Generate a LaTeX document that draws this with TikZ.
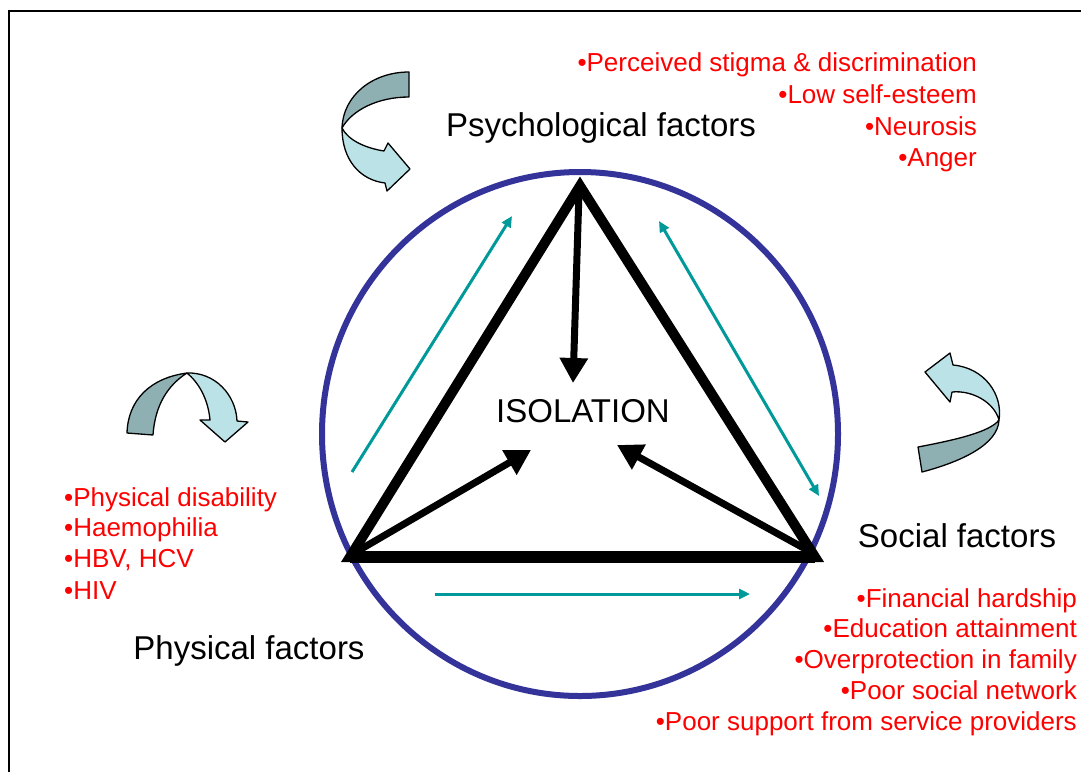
\documentclass[tikz,border=0pt]{standalone}
\usepackage{fontspec}
\setmainfont{Liberation Sans}
\usetikzlibrary{arrows.meta}
\definecolor{ringblue}{RGB}{51,51,153}
\definecolor{tealar}{RGB}{0,153,153}
\definecolor{cadark}{RGB}{143,176,178}
\definecolor{calight}{RGB}{187,226,230}
\definecolor{redtxt}{RGB}{255,0,0}
\tikzset{
  lbl/.style={font=\fontsize{33}{40}\selectfont, inner sep=0pt, anchor=base, text=black},
  rtxt/.style={font=\fontsize{26}{31}\selectfont, inner sep=0pt, text=redtxt},
  blkarrow/.style={line width=7pt, -{Triangle[length=25pt,width=27pt]}, shorten >=0pt},
  tealone/.style={tealar, line width=3pt, -{Triangle[length=11pt,width=10pt]}},
  tealtwo/.style={tealar, line width=3pt, {Triangle[length=11pt,width=10pt]}-{Triangle[length=11pt,width=10pt]}},
  bandedge/.style={draw=black, line width=1.3pt, line join=round},
}
\begin{document}
\begin{tikzpicture}[x=1pt,y=-1pt]
\useasboundingbox (0,0) rectangle (1081,772);
\fill[white] (0,0) rectangle (1081,772);
% frame
\draw[line width=2.5pt] (9,772) -- (9,11) -- (1081,11);

% ring
\draw[ringblue, line width=6pt] (580,434) ellipse [x radius=258pt, y radius=262pt];

% triangle vertices
\coordinate (top) at (580,186);
\coordinate (bl) at (350,557);
\coordinate (br) at (815,557);
\draw[line width=10pt, line join=miter] (top) -- (bl) -- (br) -- cycle;
\draw[line width=12pt] (bl) -- (br);

% labels
\node[lbl] (psy) at (601,136) {Psychological factors};
\node[lbl] (iso) at (583,422) {ISOLATION};
\node[lbl] (soc) at (957,547) {Social factors};
\node[lbl] (phy) at (249,659) {Physical factors};

% black arrows into isolation
\coordinate (a1s) at (579,192);
\coordinate (a1e) at (573,383);
\coordinate (a2s) at (356,552);
\coordinate (a2e) at (531,450);
\coordinate (a3s) at (809,551);
\coordinate (a3e) at (617,445);
\draw[blkarrow] (a1s) -- (a1e);
\draw[blkarrow] (a2s) -- (a2e);
\draw[blkarrow] (a3s) -- (a3e);

% teal arrows
\coordinate (t1s) at (352,472);
\coordinate (t1e) at (512,216);
\coordinate (t2s) at (659,221);
\coordinate (t2e) at (819,496);
\coordinate (t3s) at (435,594);
\coordinate (t3e) at (750,594);
\draw[tealone] (t1s) -- (t1e);
\draw[tealtwo] (t2s) -- (t2e);
\draw[tealone] (t3s) -- (t3e);

% curved arrow near psychological factors
\path[bandedge, fill=cadark] (409,72) .. controls (372,72) and (343,96) .. (342,128)
  .. controls (352,110) and (378,97) .. (409,97) -- cycle;
\path[bandedge, fill=calight] (342,128) .. controls (342,160) and (360,180) .. (385,183)
  -- (387,191) -- (410,169) -- (388,143) -- (384,151)
  .. controls (365,148) and (348,140) .. (342,128) -- cycle;

% curved arrow near physical factors
\path[bandedge, fill=cadark] (127,433) .. controls (128,400) and (150,378) .. (187,373)
  .. controls (168,385) and (155,405) .. (153,435) -- cycle;
\path[bandedge, fill=calight] (187,373) .. controls (215,372) and (236,395) .. (237,421)
  -- (248,422) -- (225,442) -- (200,420) -- (210,420)
  .. controls (208,398) and (198,382) .. (187,373) -- cycle;

% curved arrow near social factors
\path[bandedge, fill=cadark] (918,447) .. controls (955,440) and (990,432) .. (999,420)
  .. controls (998,445) and (960,462) .. (922,472) -- cycle;
\path[bandedge, fill=calight] (999,420) .. controls (1003,395) and (985,368) .. (953,365)
  -- (950,353) -- (925,372) -- (950,402) -- (952,392)
  .. controls (972,390) and (994,402) .. (999,420) -- cycle;

% red lists
\node[rtxt, anchor=base east] (p1) at (977,71) {•Perceived stigma \& discrimination};
\node[rtxt, anchor=base east] (p2) at (977,103) {•Low self-esteem};
\node[rtxt, anchor=base east] (p3) at (977,135) {•Neurosis};
\node[rtxt, anchor=base east] (p4) at (977,166) {•Anger};

\node[rtxt, anchor=base west] (h1) at (64,506) {•Physical disability};
\node[rtxt, anchor=base west] (h2) at (64,536) {•Haemophilia};
\node[rtxt, anchor=base west] (h3) at (64,567) {•HBV, HCV};
\node[rtxt, anchor=base west] (h4) at (64,599) {•HIV};

\node[rtxt, anchor=base east] (s1) at (1077,607) {•Financial hardship};
\node[rtxt, anchor=base east] (s2) at (1077,637) {•Education attainment};
\node[rtxt, anchor=base east] (s3) at (1077,668) {•Overprotection in family};
\node[rtxt, anchor=base east] (s4) at (1077,699) {•Poor social network};
\node[rtxt, anchor=base east] (s5) at (1077,730) {•Poor support from service providers};
\end{tikzpicture}
\end{document}
